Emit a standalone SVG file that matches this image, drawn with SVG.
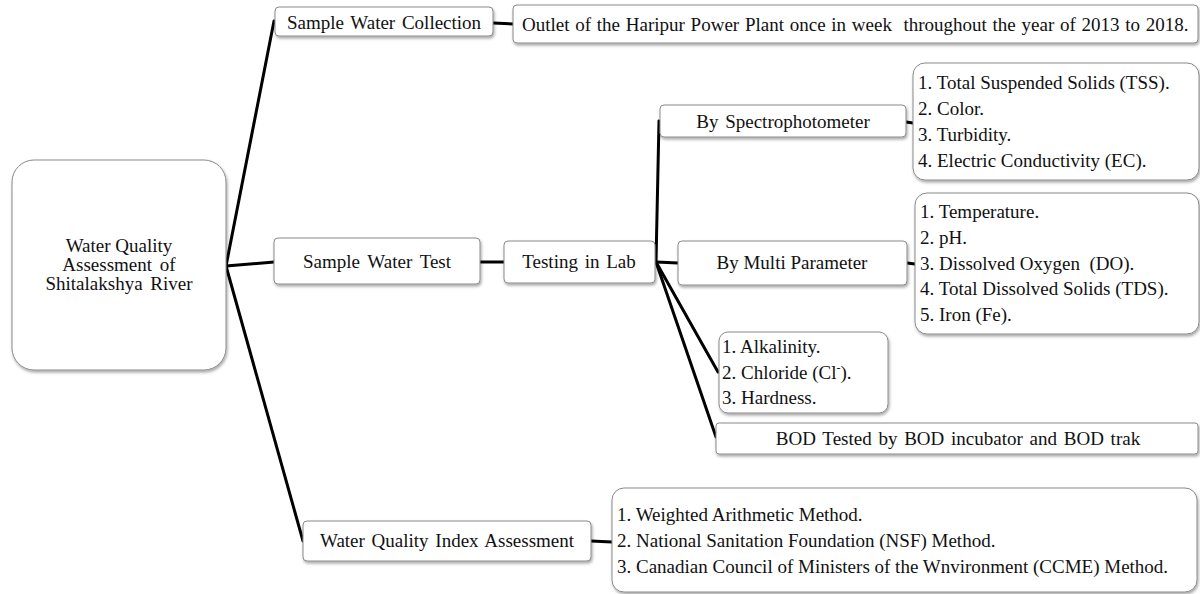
<svg xmlns="http://www.w3.org/2000/svg" width="1200" height="594" viewBox="0 0 1200 594">
<defs>
<filter id="sh" x="-10%" y="-10%" width="130%" height="150%">
<feDropShadow dx="1" dy="2" stdDeviation="1.5" flood-color="#000" flood-opacity="0.35"/>
</filter>
<style>
.b{fill:#fff;stroke:#8a8a8a;stroke-width:1;filter:url(#sh)}
.t{font-family:'Liberation Serif','Times New Roman','DejaVu Serif',serif;font-size:19px;fill:#111}
.c{text-anchor:middle}
.ln{stroke:#000;stroke-width:3;fill:none;stroke-linecap:round}
</style>
</defs>
<rect width="1200" height="594" fill="#fff"/>
<g id="connectors">
<line class="ln" x1="226" y1="266" x2="274" y2="21"/>
<line class="ln" x1="226" y1="266" x2="274" y2="262"/>
<line class="ln" x1="226" y1="266" x2="303" y2="541"/>
<line class="ln" x1="493" y1="23" x2="513" y2="24"/>
<line class="ln" x1="480" y1="262" x2="504" y2="262"/>
<line class="ln" x1="656" y1="262" x2="659" y2="121"/>
<line class="ln" x1="656" y1="262" x2="678" y2="263"/>
<line class="ln" x1="656" y1="262" x2="718" y2="372"/>
<line class="ln" x1="656" y1="262" x2="716" y2="437"/>
<line class="ln" x1="906" y1="122" x2="913" y2="123"/>
<line class="ln" x1="907" y1="263" x2="915" y2="264"/>
<line class="ln" x1="591" y1="541" x2="612" y2="542"/>
</g>
<g id="root">
<rect class="b" x="12" y="160" width="214" height="210" rx="22"/>
<text class="t c" x="119" y="252">Water Quality</text>
<text class="t c" x="119" y="271" word-spacing="3">Assessment of</text>
<text class="t c" x="119" y="290" word-spacing="3">Shitalakshya River</text>
</g>
<g id="sample-water-collection">
<rect class="b" x="275" y="7" width="218" height="29" rx="4"/>
<text class="t c" x="384" y="29" word-spacing="2">Sample Water Collection</text>
</g>
<g id="outlet">
<rect class="b" x="513" y="5" width="685" height="38" rx="4"/>
<text class="t" x="522" y="31" word-spacing="1" xml:space="preserve">Outlet of the Haripur Power Plant once in week  throughout the year of 2013 to 2018.</text>
</g>
<g id="sample-water-test">
<rect class="b" x="274" y="238" width="206" height="46" rx="4"/>
<text class="t c" x="377" y="268" word-spacing="3">Sample Water Test</text>
</g>
<g id="testing-in-lab">
<rect class="b" x="504" y="241" width="151" height="42" rx="4"/>
<text class="t c" x="579" y="268" word-spacing="2">Testing in Lab</text>
</g>
<g id="spectrophotometer">
<rect class="b" x="660" y="105" width="246" height="32" rx="4"/>
<text class="t c" x="783" y="128" word-spacing="2">By Spectrophotometer</text>
</g>
<g id="spectro-list">
<rect class="b" x="913" y="63" width="286" height="117" rx="12"/>
<text class="t" x="918" y="89">1. Total Suspended Solids (TSS).</text>
<text class="t" x="918" y="115">2. Color.</text>
<text class="t" x="918" y="141">3. Turbidity.</text>
<text class="t" x="918" y="167">4. Electric Conductivity (EC).</text>
</g>
<g id="multi-parameter">
<rect class="b" x="678" y="241" width="229" height="44" rx="4"/>
<text class="t c" x="792" y="269">By Multi Parameter</text>
</g>
<g id="multi-list">
<rect class="b" x="915" y="193" width="284" height="141" rx="12"/>
<text class="t" x="920" y="218">1. Temperature.</text>
<text class="t" x="920" y="244">2. pH.</text>
<text class="t" x="920" y="270" xml:space="preserve">3. Dissolved Oxygen  (DO).</text>
<text class="t" x="920" y="295">4. Total Dissolved Solids (TDS).</text>
<text class="t" x="920" y="321">5. Iron (Fe).</text>
</g>
<g id="other-list">
<rect class="b" x="719" y="332" width="169" height="81" rx="9"/>
<text class="t" x="722" y="353">1. Alkalinity.</text>
<text class="t" x="722" y="379">2. Chloride (Cl<tspan font-size="12" dy="-7">-</tspan><tspan dy="7">).</tspan></text>
<text class="t" x="722" y="404">3. Hardness.</text>
</g>
<g id="bod">
<rect class="b" x="716" y="423" width="482" height="31" rx="3"/>
<text class="t c" x="958" y="445" word-spacing="2">BOD Tested by BOD incubator and BOD trak</text>
</g>
<g id="wqi-assessment">
<rect class="b" x="303" y="521" width="288" height="40" rx="4"/>
<text class="t c" x="447" y="547" word-spacing="2">Water Quality Index Assessment</text>
</g>
<g id="wqi-methods">
<rect class="b" x="612" y="488" width="585" height="104" rx="12"/>
<text class="t" x="617" y="521">1. Weighted Arithmetic Method.</text>
<text class="t" x="617" y="547">2. National Sanitation Foundation (NSF) Method.</text>
<text class="t" x="617" y="573">3. Canadian Council of Ministers of the Wnvironment (CCME) Method.</text>
</g>
</svg>
